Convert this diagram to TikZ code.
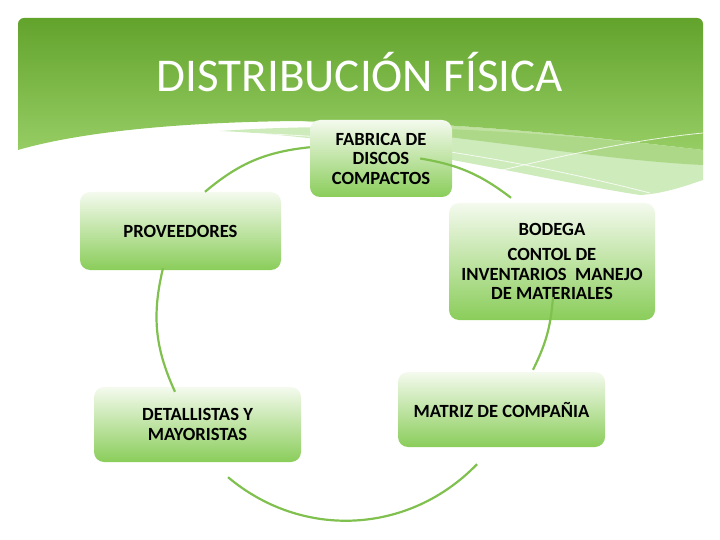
\documentclass[tikz,border=0pt]{standalone}
\usepackage{fontspec}
\setmainfont{Carlito}
\usepackage{xcolor}
\definecolor{hdtop}{RGB}{98,163,44}
\definecolor{hdbot}{RGB}{150,205,100}
\definecolor{band}{RGB}{190,228,165}
\definecolor{arcgreen}{RGB}{128,192,78}
\definecolor{boxtop}{RGB}{244,250,238}
\definecolor{boxbot}{RGB}{138,205,90}
\tikzset{
  stage/.style={rounded corners=10pt, top color=boxtop, bottom color=boxbot,
    align=center, inner sep=0pt, font=\bfseries\fontsize{18.6}{19.5}\selectfont},
  cyc/.style={draw=arcgreen, line width=2.2pt}
}

\begin{document}
\begin{tikzpicture}[x=1pt,y=1pt]
	\useasboundingbox (0,0) rectangle (720,-540);

	    % draw header
	    \shade[top color=hdtop, bottom color=hdbot, rounded corners=6pt]
	      (18,-150) -- (18,-18) -- (703,-18) [sharp corners] -- (703,-150)
	      .. controls (600,-138) and (450,-120) .. (300,-121)
	      .. controls (180,-122) and (80,-132) .. (18,-150) -- cycle;
	    \fill[color=band, opacity=0.75] (220,-131)
	      .. controls (350,-122) and (520,-128) .. (703,-150)
	      -- (703,-180) .. controls (680,-188) and (660,-194) .. (640,-195)
	      .. controls (540,-180) and (380,-138) .. (220,-131) -- cycle;
	    \fill[color=hdbot, opacity=0.6] (300,-121)
	      .. controls (450,-120) and (600,-138) .. (703,-150)
	      -- (703,-165) .. controls (600,-160) and (500,-140) .. (300,-121) -- cycle;
	    \draw[color=white, opacity=0.8, line width=0.8pt] (230,-133)
	      .. controls (400,-135) and (560,-170) .. (650,-193);
	    \draw[color=white, opacity=0.8, line width=0.8pt] (453,-182)
	      .. controls (550,-158) and (630,-140) .. (703,-133);
	    \node[anchor=base, text=white, font=\fontsize{47}{50}\selectfont] (title) at (360,-92) {DISTRIBUCIÓN FÍSICA};

	    % draw boxes
	    \node[stage, minimum width=142pt, minimum height=77pt] (fab) at (381,-158.5) {FABRICA DE\\DISCOS\\COMPACTOS};
	    \node[stage, minimum width=201pt, minimum height=78pt] (prov) at (180.5,-231) {PROVEEDORES};
	    \node[stage, minimum width=206pt, minimum height=117pt] (bod) at (552,-261.5) {BODEGA\\[6pt]CONTOL DE\\INVENTARIOS\ \ MANEJO\\DE MATERIALES};
	    \node[stage, minimum width=207pt, minimum height=75pt] (mat) at (501.5,-409.5) {MATRIZ DE COMPAÑIA};
	    \node[stage, minimum width=207pt, minimum height=75pt] (det) at (197.5,-424.5) {DETALLISTAS Y\\MAYORISTAS};

	    % draw cycle
	    \draw[cyc] (prov.58) to[bend left=17] (fab.171);
	    \draw[cyc] ([xshift=-32pt]fab.east) to[bend left=14] ([xshift=-41pt,yshift=5pt]bod.north);
	    \draw[cyc] ([xshift=1pt,yshift=23pt]bod.south) to[bend left=11] ([xshift=31.5pt,yshift=2pt]mat.north);
	    \draw[cyc] ([xshift=-24.5pt,yshift=-17pt]mat.south) to[bend left=43] ([xshift=30.5pt,yshift=-15pt]det.south);
	    \draw[cyc] ([xshift=-22.5pt,yshift=-5pt]det.north) to[bend left=19] ([xshift=-17.5pt,yshift=2pt]prov.south);
\end{tikzpicture}
\end{document}
